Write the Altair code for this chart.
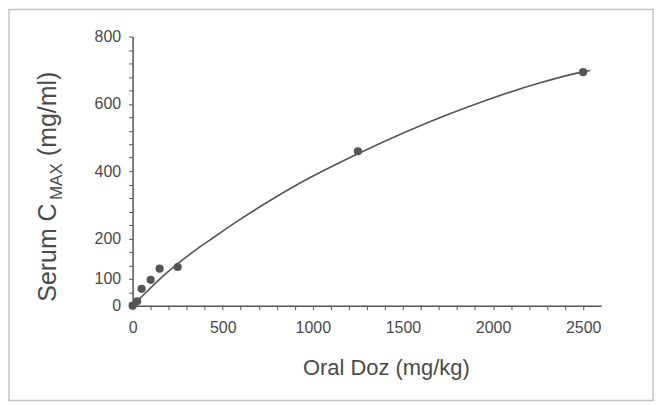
import altair as alt
import pandas as pd

# measured points
dose = [0, 25, 50, 100, 150, 250, 1250, 2500]
cmax = [0, 13, 50, 77, 110, 115, 459, 694]

# fitted curve
curve_x = [0, 39, 83, 155, 249, 343, 426, 592, 758, 924, 1256, 1753, 1975, 2252, 2473, 2539]
curve_y = [0, 21, 44, 81, 124, 163, 194, 255, 311, 363, 453, 569, 613, 661, 692, 699]

x_ticks = list(range(0, 2501, 100))
x_label_values = [0, 500, 1000, 1500, 2000, 2500]
y_ticks = list(range(0, 801, 40))
y_label_values = [0, 80, 200, 400, 600, 800]
y_label_texts = ["0", "100", "200", "400", "600", "800"]

x_title = "Oral Doz (mg/kg)"
y_title_parts = ["Serum C", "MAX", "(mg/ml)"]

FONT = "Liberation Sans"
INK = "#4a4a4a"

pts = pd.DataFrame({"x": dose, "y": cmax})
crv = pd.DataFrame({"x": curve_x, "y": curve_y})

x_expr = "indexof([" + ",".join(str(v) for v in x_label_values) + "], datum.value) >= 0 ? format(datum.value, 'd') : ''"
y_expr = ""
for v, t in zip(y_label_values, y_label_texts):
    y_expr += f"datum.value == {v} ? '{t}' : "
y_expr += "''"

xs = alt.Scale(domain=[0, 2600], nice=False, zero=False)
ys = alt.Scale(domain=[0, 800], nice=False)

x_axis = alt.Axis(values=x_ticks, labelExpr=x_expr, title=x_title, tickSize=4,
                  labelPadding=10, labelFontSize=16, labelFont=FONT, labelColor=INK,
                  labelOverlap=False, labelFlush=False, grid=False,
                  domainColor="#555", domainWidth=1.5, tickColor="#555", tickWidth=1,
                  titleFont=FONT, titleFontSize=22, titleFontWeight="normal", titleColor=INK,
                  titleX=254, titleY=62, titleBaseline="middle", titleAlign="center")
y_axis = alt.Axis(values=y_ticks, labelExpr=y_expr, title=None, tickSize=4,
                  labelPadding=8, labelFontSize=16, labelFont=FONT, labelColor=INK,
                  labelOverlap=False, labelFlush=False, grid=False,
                  domainColor="#555", domainWidth=1.5, tickColor="#555", tickWidth=1)

curve = alt.Chart(crv).mark_line(color="#555", strokeWidth=1.6, interpolate="monotone").encode(
    x=alt.X("x:Q", scale=xs, axis=x_axis),
    y=alt.Y("y:Q", scale=ys, axis=y_axis),
)
points = alt.Chart(pts).mark_circle(color="#555", opacity=1, size=68).encode(
    x=alt.X("x:Q", scale=xs, axis=x_axis),
    y=alt.Y("y:Q", scale=ys, axis=y_axis),
)

one = alt.Data(values=[{"k": 1}])
border = alt.Chart(one).mark_rect(fill="white", fillOpacity=0, stroke="#c4c4c4", strokeWidth=1.5).encode(
    x=alt.value(-124), x2=alt.value(522), y=alt.value(-27), y2=alt.value(365)
)
t1 = alt.Chart(one).mark_text(text=y_title_parts[0], font=FONT, fontSize=25, color=INK,
                              angle=270, align="left", baseline="alphabetic").encode(
    x=alt.value(-77), y=alt.value(266))
t2 = alt.Chart(one).mark_text(text=y_title_parts[1], font=FONT, fontSize=17, color=INK,
                              angle=270, align="left", baseline="alphabetic").encode(
    x=alt.value(-71), y=alt.value(164))
t3 = alt.Chart(one).mark_text(text=y_title_parts[2], font=FONT, fontSize=25, color=INK,
                              angle=270, align="left", baseline="alphabetic").encode(
    x=alt.value(-77), y=alt.value(120))

chart = alt.layer(border, curve, points, t1, t2, t3).properties(
    width=470, height=270,
    autosize=alt.AutoSizeParams(type="none"),
    padding={"left": 125, "top": 28, "right": 54, "bottom": 100},
    background="white",
).configure_view(strokeWidth=0)

chart.save("out.html", embed_options={"renderer": "svg", "actions": False})
